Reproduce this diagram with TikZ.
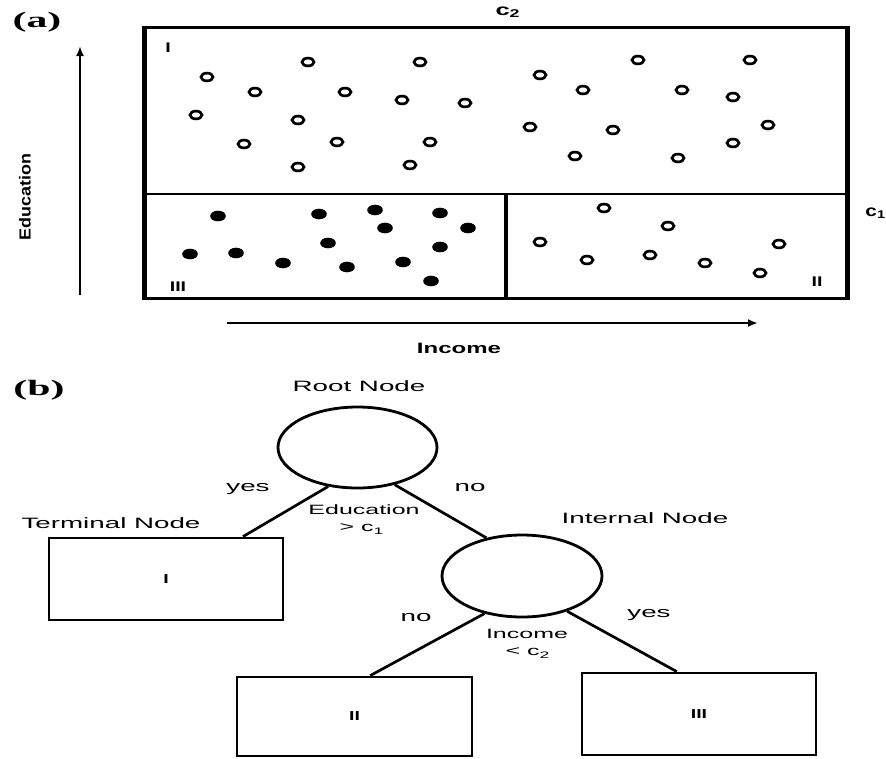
\documentclass[tikz,border=0pt]{standalone}
\usepackage{fontspec}
\usepackage{graphicx}
\setmainfont{Liberation Sans}
\newfontfamily\panelfont{Liberation Serif}
\usetikzlibrary{shapes.geometric,calc,arrows.meta}
% horizontally widened text
\newcommand\wide[2][1.95]{\scalebox{#1}[1]{#2}}

\tikzset{
  split/.style={ellipse, draw, line width=2.8pt, minimum width=159pt,
    minimum height=81pt, inner sep=0pt},
  leaf/.style={rectangle, draw, line width=2.8pt, minimum width=234pt,
    inner sep=0pt, font=\fontsize{13}{13}\selectfont\bfseries},
  branch/.style={line width=2.7pt},
  lbl/.style={font=\fontsize{15}{15}\selectfont, inner sep=0pt},
  cond/.style={font=\fontsize{13.5}{14}\selectfont, inner sep=0pt},
  panel/.style={font=\panelfont\bfseries\fontsize{22}{22}\selectfont, inner sep=0pt},
  region/.style={font=\fontsize{14}{14}\selectfont\bfseries, inner sep=0pt},
  cut/.style={font=\fontsize{16}{16}\selectfont\bfseries, inner sep=0pt},
  axis/.style={line width=2.8pt, -{Latex[length=10pt,width=8pt]}},
}

\begin{document}
\begin{tikzpicture}[x=1pt,y=-1pt]
\useasboundingbox (0,0) rectangle (886,758);

% ---------- (a) partition of the feature space ----------
\node[panel] (pa) at (37,22) {\wide[1.9]{(a)}};

% frame and split lines
\draw[line width=3pt] (144,27) -- (847,27);
\draw[line width=3pt] (144,298) -- (847,298);
\draw[line width=5pt] (144,25.5) -- (144,299.5);
\draw[line width=5pt] (847,25.5) -- (847,299.5);
\draw[line width=2.4pt] (144,194) -- (847,194);
\draw[line width=3.4pt] (506,194) -- (506,298);

\node[cut] (c2) at (508,12) {\wide[1.6]{c\textsubscript{2}}};
\node[cut, anchor=east] (c1) at (886,213) {\wide[1.3]{c\textsubscript{1}}};

% axes
\coordinate (ey0) at (80,295);
\coordinate (ey1) at (80,46);
\draw[axis] (ey0) -- (ey1);
\coordinate (ex0) at (227,323);
\coordinate (ex1) at (758,323);
\draw[axis, line width=2.6pt] (ex0) -- (ex1);
\node[font=\fontsize{16}{16}\selectfont\bfseries, inner sep=0pt, rotate=90] (edu) at (25,197) {\scalebox{1.12}[1]{Education}};
\node[font=\fontsize{15}{15}\selectfont\bfseries, inner sep=0pt] (inc) at (459,348) {\wide[1.6]{Income}};

% region labels
\node[region] (rI) at (168,48) {\wide[1.4]{I}};
\node[region] (rIII) at (178,287) {\wide[1.4]{III}};
\node[region] (rII) at (817,282) {\wide[1.4]{II}};

% open points
\foreach \p in {(207,77),(308,62),(420,62),(540,75),(638,60),(750,60),
  (255,92),(345,92),(402,100),(465,103),(583,90),(682,90),(733,97),
  (196,115),(298,120),(530,127),(613,130),(768,125),
  (244,144),(337,142),(430,142),(575,156),(678,158),(733,143),
  (298,167),(410,165),
  (604,208),(668,226),(540,242),(587,260),(650,255),(705,263),(779,244),(760,273)}
  \draw[line width=2.7pt] \p ellipse [x radius=6pt, y radius=3.9pt];

% filled points
\foreach \p in {(218,216),(319,214),(375,210),(440,213),(385,228),(468,228),
  (328,243),(440,247),(190,254),(236,253),(283,263),(347,267),(403,262),(431,281)}
  \fill \p ellipse [x radius=7.8pt, y radius=5.3pt];

% ---------- (b) decision tree ----------
\node[panel] (pb) at (39,390) {\wide[1.9]{(b)}};

\node[split] (root) at (357.5,447.5) {};
\node[split, minimum width=160pt, minimum height=82pt] (inner) at (522,576) {};
\node[leaf, minimum height=82pt] (t1) at (166,579) {\wide[1.5]{I}};
\node[leaf, minimum width=235pt, minimum height=79pt] (t2) at (354.5,716.5) {\wide[1.5]{II}};
\node[leaf, minimum height=82pt] (t3) at (699,714) {\wide[1.5]{III}};

\node[lbl] (lroot) at (359,386) {\wide[1.85]{Root Node}};
\node[lbl] (linner) at (645,518) {\wide[1.85]{Internal Node}};
\node[lbl] (lterm) at (111,523) {\wide[1.85]{Terminal Node}};

\coordinate (e1) at ($(t1.north west)!0.825!(t1.north east)$);
\coordinate (e2) at ($(t2.north west)!0.566!(t2.north east)$);
\coordinate (e3) at ($(t3.north west)!0.406!(t3.north east)$);

\draw[branch] (root.233) -- (e1);
\draw[branch] (root.315) -- (inner.133.5);
\draw[branch] (inner.225) -- (e2);
\draw[branch] (inner.322) -- (e3);

\node[lbl] (y1) at (248,489) {\wide[1.85]{yes}};
\node[lbl] (n1) at (470,488) {\wide[1.85]{no}};
\node[lbl] (n2) at (416,618) {\wide[1.85]{no}};
\node[lbl] (y2) at (649,615) {\wide[1.85]{yes}};

\node[cond] (q1) at (364,510) {\wide[1.85]{Education}};
\node[cond] (q1b) at (362,529) {\wide[1.85]{> c\textsubscript{1}}};
\node[cond] (q2) at (527,634) {\wide[1.85]{Income}};
\node[cond] (q2b) at (528,653) {\wide[1.85]{< c\textsubscript{2}}};
\end{tikzpicture}
\end{document}
